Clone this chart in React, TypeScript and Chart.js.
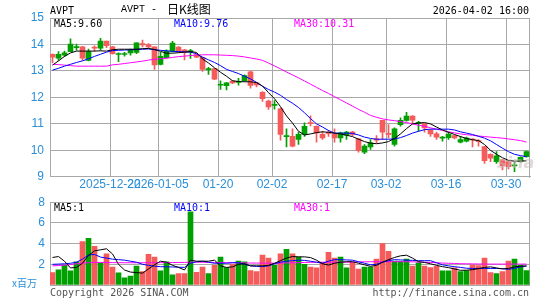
import React, { useEffect, useRef } from "react";
import { Chart, registerables } from "chart.js";
Chart.register(...registerables);

const dates = [
  "2025-12-08","2025-12-09","2025-12-10","2025-12-11","2025-12-12","2025-12-15","2025-12-16","2025-12-17","2025-12-18","2025-12-19",
  "2025-12-22","2025-12-23","2025-12-24","2025-12-26","2025-12-29","2025-12-30","2025-12-31","2026-01-02","2026-01-05","2026-01-06",
  "2026-01-07","2026-01-08","2026-01-09","2026-01-12","2026-01-13","2026-01-14","2026-01-15","2026-01-16","2026-01-20","2026-01-21",
  "2026-01-22","2026-01-23","2026-01-26","2026-01-27","2026-01-28","2026-01-29","2026-01-30","2026-02-02","2026-02-03","2026-02-04",
  "2026-02-05","2026-02-06","2026-02-09","2026-02-10","2026-02-11","2026-02-12","2026-02-13","2026-02-17","2026-02-18","2026-02-19",
  "2026-02-20","2026-02-23","2026-02-24","2026-02-25","2026-02-26","2026-02-27","2026-03-02","2026-03-03","2026-03-04","2026-03-05",
  "2026-03-06","2026-03-09","2026-03-10","2026-03-11","2026-03-12","2026-03-13","2026-03-16","2026-03-17","2026-03-18","2026-03-19",
  "2026-03-20","2026-03-23","2026-03-24","2026-03-25","2026-03-26","2026-03-27","2026-03-30","2026-03-31","2026-04-01","2026-04-02",
];

const open = [
  13.52,13.63,13.68,14.01,13.91,13.48,13.73,13.86,14.13,13.95,
  13.65,13.65,13.64,13.78,14.06,13.98,13.91,13.23,13.55,13.75,
  14.05,13.72,13.70,13.76,13.52,13.06,13.07,12.69,12.48,12.55,
  12.55,12.59,12.82,12.45,12.47,11.95,11.64,11.72,10.60,10.55,
  10.16,10.60,10.91,11.01,10.66,10.47,10.64,10.47,10.66,10.69,
  10.60,9.99,10.16,10.28,10.38,10.69,10.60,10.81,11.13,11.29,
  11.14,11.05,10.85,10.62,10.50,10.48,10.60,10.47,10.41,10.46,
  10.39,10.33,9.61,9.70,9.79,9.41,9.38,9.43,9.74,9.95,
];
const high = [
  13.65,13.73,13.75,14.21,14.01,13.93,13.83,13.95,14.23,14.13,
  13.93,13.68,13.70,13.83,14.06,14.17,14.03,13.91,13.70,13.80,
  14.12,13.92,13.82,13.82,13.65,13.52,13.14,13.10,12.63,12.57,
  12.64,12.72,12.85,12.99,12.57,12.22,11.90,11.88,11.60,10.81,
  10.81,10.69,11.04,11.30,10.93,10.72,10.76,10.81,10.69,10.72,
  10.72,10.45,10.22,10.41,10.56,11.13,10.97,10.85,11.23,11.44,
  11.31,11.10,11.02,10.78,10.69,10.53,10.69,10.58,10.53,10.50,
  10.44,10.41,10.15,9.87,9.95,9.66,9.60,9.57,9.75,9.97,
];
const low = [
  13.31,13.40,13.55,13.73,13.78,13.40,13.38,13.75,13.78,13.88,
  13.63,13.35,13.56,13.60,13.65,13.91,13.88,13.06,13.23,13.48,
  13.72,13.70,13.42,13.47,13.50,12.98,12.87,12.67,12.30,12.28,
  12.52,12.46,12.60,12.35,12.40,11.85,11.55,11.56,10.38,10.13,
  10.13,10.22,10.53,10.92,10.31,10.41,10.53,10.31,10.31,10.41,
  10.55,9.93,9.87,10.03,10.28,10.41,10.47,10.16,10.91,11.10,
  11.01,10.72,10.69,10.53,10.41,10.35,10.41,10.43,10.28,10.32,
  10.13,10.16,9.51,9.57,9.51,9.26,9.30,9.19,9.55,9.74,
];
const close = [
  13.63,13.48,13.60,13.73,13.88,13.91,13.40,13.88,13.86,14.13,
  13.91,13.62,13.62,13.68,13.70,14.03,14.00,13.91,13.25,13.50,
  13.74,13.90,13.80,13.73,13.62,13.50,13.05,13.09,12.46,12.44,
  12.62,12.57,12.63,12.97,12.55,12.19,11.86,11.70,11.57,10.52,
  10.53,10.41,10.60,11.04,10.91,10.60,10.67,10.62,10.47,10.57,
  10.69,10.43,9.93,10.13,10.43,11.13,10.64,10.22,10.97,11.13,
  11.29,11.02,11.00,10.76,10.62,10.46,10.48,10.56,10.31,10.35,
  10.42,10.36,10.14,9.85,9.57,9.64,9.57,9.41,9.57,9.76,
];

const ma5 = [
  13.22,13.38,13.55,13.68,13.75,13.75,13.75,13.75,13.76,13.75,
  13.80,13.82,13.82,13.82,13.82,13.84,13.85,13.81,13.74,13.67,
  13.67,13.69,13.71,13.73,13.70,13.45,13.30,13.12,12.95,12.80,
  12.63,12.60,12.59,12.59,12.56,12.43,12.18,11.95,11.65,11.30,
  11.03,10.72,10.58,10.62,10.67,10.70,10.68,10.65,10.62,10.57,
  10.52,10.42,10.33,10.27,10.25,10.28,10.33,10.45,10.62,10.82,
  11.00,11.03,11.05,11.00,10.88,10.77,10.68,10.60,10.52,10.45,
  10.40,10.37,10.22,10.00,9.85,9.72,9.62,9.59,9.60,9.60,
];
const ma10 = [
  13.03,13.10,13.18,13.25,13.32,13.38,13.46,13.55,13.63,13.71,
  13.77,13.78,13.79,13.80,13.81,13.82,13.83,13.80,13.78,13.76,
  13.74,13.73,13.72,13.71,13.65,13.52,13.42,13.32,13.20,13.06,
  12.98,12.90,12.80,12.70,12.57,12.42,12.30,12.20,12.08,11.92,
  11.78,11.62,11.42,11.20,11.00,10.88,10.75,10.65,10.65,10.65,
  10.64,10.58,10.50,10.45,10.42,10.42,10.42,10.43,10.48,10.56,
  10.65,10.72,10.78,10.80,10.80,10.80,10.80,10.77,10.70,10.65,
  10.60,10.53,10.46,10.36,10.22,10.08,9.95,9.85,9.80,9.76,
];
const ma30 = [
  13.25,13.24,13.22,13.20,13.18,13.18,13.18,13.18,13.18,13.18,
  13.23,13.25,13.28,13.31,13.34,13.37,13.41,13.44,13.46,13.48,
  13.51,13.54,13.56,13.58,13.60,13.61,13.61,13.61,13.60,13.59,
  13.58,13.56,13.53,13.49,13.45,13.40,13.30,13.19,13.08,12.96,
  12.85,12.74,12.62,12.50,12.38,12.26,12.15,12.03,11.91,11.79,
  11.67,11.55,11.44,11.32,11.25,11.19,11.15,11.12,11.09,11.05,
  11.00,10.95,10.91,10.85,10.80,10.75,10.70,10.66,10.62,10.59,
  10.57,10.54,10.52,10.50,10.48,10.46,10.43,10.40,10.37,10.31,
];

const volume = [
  1.2,1.46,1.9,1.36,2.25,4.2,4.5,3.73,2.15,3.0,
  1.74,1.17,0.7,0.85,1.84,1.3,2.97,2.7,1.36,2.25,
  0.98,1.1,1.1,7.06,1.23,1.74,1.1,1.9,2.7,1.68,
  2.0,2.3,2.25,1.4,1.3,2.9,2.6,1.9,3.0,3.45,
  3.0,2.7,2.0,1.74,1.65,2.2,3.16,2.6,2.7,1.65,
  2.18,1.55,1.74,1.74,2.5,4.0,3.26,2.3,2.28,2.5,
  1.84,2.15,1.84,1.68,1.8,1.36,1.36,1.65,1.3,1.4,
  1.93,1.87,2.6,1.2,1.1,1.3,2.3,2.5,1.9,1.4,
];
const volMa5 = [
  2.66,2.75,2.3,1.65,1.7,2.1,2.85,3.3,3.4,3.5,
  3.0,2.0,1.45,1.25,1.2,1.15,1.55,1.95,2.3,2.2,
  1.9,1.7,1.45,2.4,2.3,2.3,2.3,2.4,1.85,1.7,
  1.75,2.0,2.05,1.85,1.85,1.85,1.9,2.1,2.35,2.6,
  2.75,2.72,2.72,2.65,2.4,2.05,1.93,2.1,2.2,2.25,
  2.25,2.1,1.95,1.8,1.9,2.2,2.45,2.66,2.82,2.88,
  2.6,2.25,2.18,2.05,1.9,1.77,1.68,1.55,1.42,1.43,
  1.48,1.58,1.7,1.75,1.65,1.55,1.6,1.75,1.82,1.84,
];
const volMa10 = [
  2.0,2.02,2.05,2.1,2.2,2.5,2.9,2.95,2.7,2.6,
  2.5,2.45,2.4,2.3,2.2,2.0,1.9,1.82,1.77,1.76,
  1.74,1.72,1.7,2.1,2.25,2.3,2.2,2.1,2.1,2.1,
  2.15,2.15,2.0,1.85,1.8,1.78,1.85,2.05,2.2,2.3,
  2.35,2.4,2.38,2.3,2.2,2.1,2.3,2.45,2.45,2.42,
  2.4,2.25,2.1,1.95,2.0,2.2,2.35,2.45,2.42,2.4,
  2.38,2.35,2.35,2.35,2.15,1.95,1.85,1.77,1.7,1.62,
  1.6,1.6,1.6,1.6,1.6,1.58,1.52,1.6,1.75,1.84,
];
const volMa30 = [
  1.85,1.88,1.92,1.98,2.05,2.12,2.15,2.18,2.18,2.17,
  2.16,2.16,2.15,2.15,2.15,2.15,2.15,2.15,2.16,2.16,
  2.17,2.18,2.18,2.2,2.2,2.2,2.19,2.18,2.17,2.16,
  2.15,2.14,2.13,2.12,2.12,2.11,2.11,2.11,2.12,2.13,
  2.15,2.16,2.18,2.19,2.2,2.2,2.2,2.2,2.2,2.21,
  2.22,2.23,2.24,2.25,2.25,2.25,2.25,2.25,2.25,2.25,
  2.24,2.22,2.2,2.18,2.15,2.12,2.1,2.08,2.06,2.05,
  2.04,2.03,2.02,2.02,2.02,2.02,2.02,2.02,2.02,2.02,
];

const tickDates = ["2025-12-22","2026-01-05","2026-01-20","2026-02-02","2026-02-17","2026-03-02","2026-03-16","2026-03-30"];
const tickLabels = ["2025-12-22","2026-01-05","01-20","02-02","02-17","03-02","03-16","03-30"];
const priceMin = 9;
const priceMax = 15;
const volMax = 8;

const SHIFT = 5 / 12;
const X_MIN = -SHIFT;
const X_MAX = dates.length - SHIFT;
const GRID = "#a8a8a8";
const AXIS_BLUE = "#2b8fd8";
const UP = "#f55b5b";
const DOWN = "#00a000";
const AXIS_FONT = { family: "'Liberation Sans', Arial, sans-serif", size: 12 };
const MONO = "'DejaVu Sans Mono', monospace";

const tickIdx = tickDates.map((d) => dates.indexOf(d));
const colors = close.map((c, i) => (c >= open[i] ? UP : DOWN));
const idx = dates.map((_, i) => i);

const frame = {
  id: "frame",
  beforeDatasetsDraw(chart: any) {
    const { ctx, chartArea } = chart;
    ctx.save();
    ctx.strokeStyle = GRID;
    ctx.lineWidth = 1;
    ctx.beginPath();
    const x = Math.round(chartArea.right) - 0.5;
    ctx.moveTo(x, chartArea.top);
    ctx.lineTo(x, chartArea.bottom + 1);
    ctx.stroke();
    ctx.restore();
  },
};

const line = (vals: number[], color: string) => ({
  type: "line" as const,
  data: vals.map((v, i) => ({ x: i, y: v })),
  borderColor: color,
  borderWidth: 1,
  pointRadius: 0,
  tension: 0,
  order: 0,
});

const Txt = (p: { x?: number; r?: number; y: number; c: string; f: string; s: number; st?: any; children: any }) => (
  <div
    style={{
      position: "absolute",
      left: p.x,
      right: p.r,
      top: p.y,
      color: p.c,
      fontFamily: p.f,
      fontSize: p.s,
      lineHeight: 1,
      whiteSpace: "pre",
      ...(p.st || {}),
    }}
  >
    {p.children}
  </div>
);

export default function App() {
  const mainRef = useRef<HTMLCanvasElement>(null);
  const volRef = useRef<HTMLCanvasElement>(null);

  useEffect(() => {
    const main = new Chart(mainRef.current!, {
      type: "bar",
      data: {
        datasets: [
          line(ma5, "#000000"),
          line(ma10, "#0000ff"),
          line(ma30, "#ff00ff"),
          {
            type: "bar",
            data: idx.map((i) => ({ x: i, y: [open[i], close[i]] })) as any,
            backgroundColor: colors,
            barThickness: 5,
            minBarLength: 1,
            grouped: false,
            order: 1,
          } as any,
          {
            type: "bar",
            data: idx.map((i) => ({ x: i, y: [low[i], high[i]] })) as any,
            backgroundColor: colors,
            barThickness: 1,
            grouped: false,
            order: 2,
          } as any,
        ],
      },
      options: {
        animation: false,
        responsive: false,
        maintainAspectRatio: false,
        events: [],
        layout: { padding: { left: 0, right: 15, top: 18, bottom: 0 } },
        plugins: { legend: { display: false }, tooltip: { enabled: false } },
        scales: {
          x: {
            type: "linear",
            min: X_MIN,
            max: X_MAX,
            offset: false,
            afterBuildTicks: (s: any) => {
              s.ticks = tickIdx.map((i) => ({ value: i - SHIFT }));
            },
            afterFit: (s: any) => {
              s.height = 13;
            },
            grid: { color: GRID, lineWidth: 1, drawTicks: false, offset: false },
            border: { color: GRID },
            ticks: {
              autoSkip: false,
              maxRotation: 0,
              minRotation: 0,
              padding: 1,
              color: AXIS_BLUE,
              font: AXIS_FONT,
              callback: (v: any) => {
                const k = tickIdx.indexOf(Math.round(Number(v) + SHIFT));
                return k >= 0 ? tickLabels[k] : "";
              },
            },
          },
          y: {
            min: priceMin,
            max: priceMax,
            beginAtZero: false,
            afterFit: (s: any) => {
              s.width = 50;
            },
            grid: { color: GRID, lineWidth: 1, drawTicks: false },
            border: { color: GRID },
            ticks: { stepSize: 1, padding: 6, color: AXIS_BLUE, font: AXIS_FONT },
          },
        },
      } as any,
      plugins: [frame],
    });

    const vol = new Chart(volRef.current!, {
      type: "bar",
      data: {
        datasets: [
          line(volMa5, "#000000"),
          line(volMa10, "#0000ff"),
          line(volMa30, "#ff00ff"),
          {
            type: "bar",
            data: idx.map((i) => ({ x: i, y: volume[i] })) as any,
            backgroundColor: colors,
            barThickness: 5,
            grouped: false,
            order: 1,
          } as any,
        ],
      },
      options: {
        animation: false,
        responsive: false,
        maintainAspectRatio: false,
        events: [],
        layout: { padding: { left: 0, right: 15, top: 11, bottom: 15 } },
        plugins: { legend: { display: false }, tooltip: { enabled: false } },
        scales: {
          x: { type: "linear", display: false, min: X_MIN, max: X_MAX, offset: false },
          y: {
            min: 0,
            max: volMax,
            afterFit: (s: any) => {
              s.width = 50;
            },
            grid: { color: GRID, lineWidth: 1, drawTicks: false },
            border: { color: GRID },
            ticks: {
              stepSize: 2,
              padding: 5,
              color: AXIS_BLUE,
              font: AXIS_FONT,
              callback: (v: any) => (Number(v) === 0 ? "" : String(v)),
            },
          },
        },
      } as any,
      plugins: [frame],
    });

    return () => {
      main.destroy();
      vol.destroy();
    };
  }, []);

  return (
    <div style={{ position: "absolute", left: 0, top: 0, width: 545, height: 300, background: "#fff", overflow: "hidden" }}>
      <canvas ref={mainRef} width={545} height={190} style={{ position: "absolute", left: 0, top: 0 }} />
      <canvas ref={volRef} width={545} height={110} style={{ position: "absolute", left: 0, top: 190 }} />
      <Txt x={497} y={155} c="rgba(200,185,185,0.55)" f="'DejaVu Sans', sans-serif" s={16} st={{ fontStyle: "italic", fontWeight: "bold", pointerEvents: "none" }}>sina</Txt>
      <Txt x={50} y={6} c="#000" f={MONO} s={10}>AVPT</Txt>
      <Txt x={121} y={5} c="#000" f="'Liberation Mono', monospace" s={10}>AVPT - </Txt>
      <Txt x={167} y={3} c="#000" f="'Noto Sans CJK SC', sans-serif" s={12}>日K线图</Txt>
      <Txt r={16} y={6} c="#000" f={MONO} s={10}>2026-04-02 16:00</Txt>
      <Txt x={54} y={18.5} c="#000" f={MONO} s={10}>MA5:9.60</Txt>
      <Txt x={174} y={18.5} c="#0000ff" f={MONO} s={10}>MA10:9.76</Txt>
      <Txt x={294} y={18.5} c="#ff00ff" f={MONO} s={10}>MA30:10.31</Txt>
      <Txt x={54} y={202.5} c="#000" f={MONO} s={10}>MA5:1</Txt>
      <Txt x={174} y={202.5} c="#0000ff" f={MONO} s={10}>MA10:1</Txt>
      <Txt x={294} y={202.5} c="#ff00ff" f={MONO} s={10}>MA30:1</Txt>
      <Txt x={12} y={278} c={AXIS_BLUE} f="'Noto Sans CJK SC', sans-serif" s={10}>x百万</Txt>
      <Txt x={50} y={288} c="#555" f={MONO} s={10}>Copyright 2026 SINA.COM</Txt>
      <Txt r={16} y={288} c="#555" f={MONO} s={10}>http://finance.sina.com.cn</Txt>
    </div>
  );
}
